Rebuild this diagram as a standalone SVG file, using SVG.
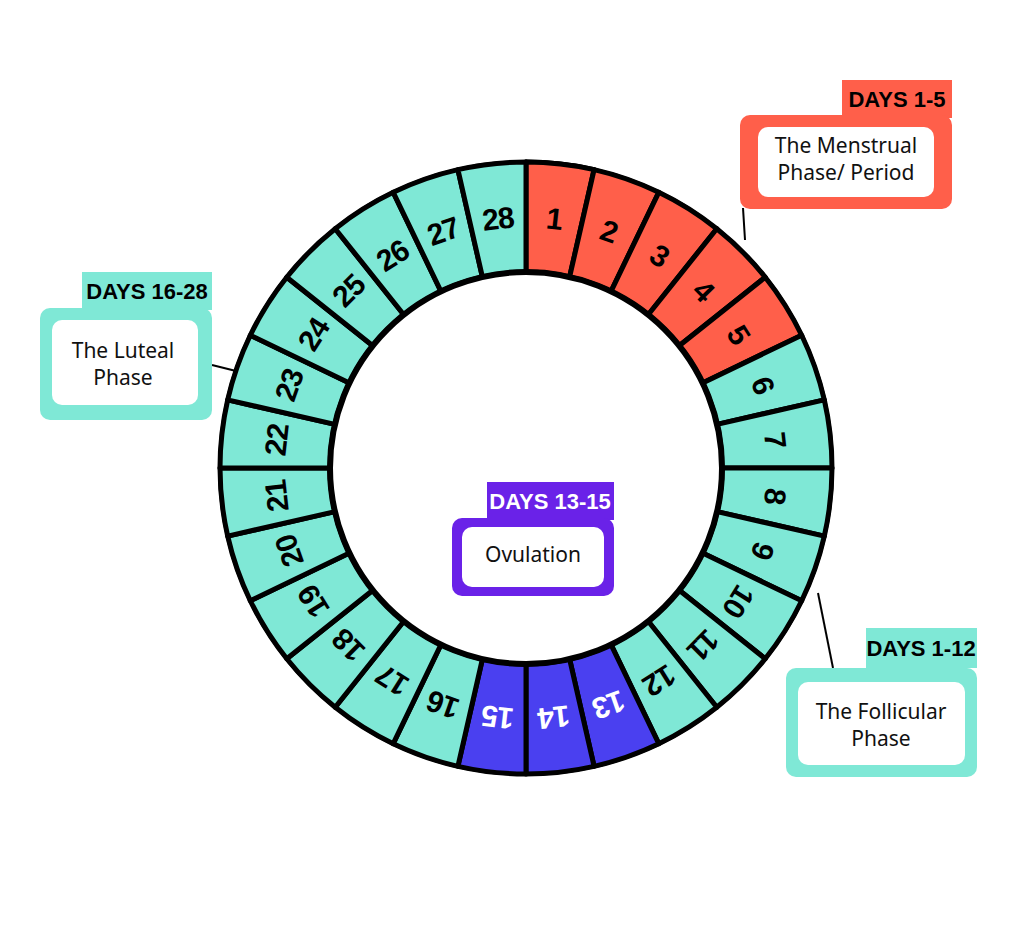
<svg xmlns="http://www.w3.org/2000/svg" width="1024" height="936" viewBox="0 0 1024 936">
<style>
.seg{stroke:#000;stroke-width:5;stroke-linejoin:round}
.t{fill:#7FE8D6}.r{fill:#FF5F4A}.b{fill:#4A40F0}
.n{font-family:"Liberation Sans",sans-serif;font-weight:bold;font-size:30px;text-anchor:middle;dominant-baseline:central;letter-spacing:-1px}
.tag{font-family:"Liberation Sans",sans-serif;font-weight:bold;font-size:22px;text-anchor:middle;dominant-baseline:central}
.lb{font-family:"Noto Sans",sans-serif;font-size:21px;text-anchor:middle;fill:#111}
.ln{stroke:#000;stroke-width:2;fill:none}
</style>
<defs><path id="s" d="M526,162 A306,306 0 0 1 594.09,169.68 L569.61,276.92 A196,196 0 0 0 526,272 Z"/></defs>
<rect width="1024" height="936" fill="#fff"/>
<g id="connectors">
<line class="ln" x1="743" y1="208" x2="745" y2="240"/>
<line class="ln" x1="212" y1="365" x2="236" y2="371"/>
<line class="ln" x1="535" y1="597" x2="525" y2="652"/>
<line class="ln" x1="818" y1="593" x2="833" y2="668"/>
</g>
<g id="wheel">
<circle cx="526" cy="468" r="308" fill="#000"/>
<g transform="rotate(0,526,468)"><use href="#s" class="seg r"/><text class="n" x="526" y="217" transform="rotate(6.43,526,468) rotate(0,526,217)" >1</text></g>
</g>
<g id="days">
<g transform="rotate(0,526,468)"><use href="#s" class="seg r"/><text class="n" transform="rotate(6.43,526,468)" x="526" y="217">1</text></g>
<g transform="rotate(12.857,526,468)"><use href="#s" class="seg r"/><text class="n" transform="rotate(6.43,526,468)" x="526" y="217">2</text></g>
<g transform="rotate(25.714,526,468)"><use href="#s" class="seg r"/><text class="n" transform="rotate(6.43,526,468)" x="526" y="217">3</text></g>
<g transform="rotate(38.571,526,468)"><use href="#s" class="seg r"/><text class="n" transform="rotate(6.43,526,468)" x="526" y="217">4</text></g>
<g transform="rotate(51.429,526,468)"><use href="#s" class="seg r"/><text class="n" transform="rotate(6.43,526,468)" x="526" y="217">5</text></g>
<g transform="rotate(64.286,526,468)"><use href="#s" class="seg t"/><text class="n" transform="rotate(6.43,526,468)" x="526" y="217">6</text></g>
<g transform="rotate(77.143,526,468)"><use href="#s" class="seg t"/><text class="n" transform="rotate(6.43,526,468)" x="526" y="217">7</text></g>
<g transform="rotate(90,526,468)"><use href="#s" class="seg t"/><text class="n" transform="rotate(6.43,526,468)" x="526" y="217">8</text></g>
<g transform="rotate(102.857,526,468)"><use href="#s" class="seg t"/><text class="n" transform="rotate(6.43,526,468)" x="526" y="217">9</text></g>
<g transform="rotate(115.714,526,468)"><use href="#s" class="seg t"/><text class="n" transform="rotate(6.43,526,468)" x="526" y="217">10</text></g>
<g transform="rotate(128.571,526,468)"><use href="#s" class="seg t"/><text class="n" transform="rotate(6.43,526,468)" x="526" y="217">11</text></g>
<g transform="rotate(141.429,526,468)"><use href="#s" class="seg t"/><text class="n" transform="rotate(6.43,526,468)" x="526" y="217">12</text></g>
<g transform="rotate(154.286,526,468)"><use href="#s" class="seg b"/><text class="n" fill="#fff" transform="rotate(6.43,526,468)" x="526" y="217">13</text></g>
<g transform="rotate(167.143,526,468)"><use href="#s" class="seg b"/><text class="n" fill="#fff" transform="rotate(6.43,526,468)" x="526" y="217">14</text></g>
<g transform="rotate(180,526,468)"><use href="#s" class="seg b"/><text class="n" fill="#fff" transform="rotate(6.43,526,468)" x="526" y="217">15</text></g>
<g transform="rotate(192.857,526,468)"><use href="#s" class="seg t"/><text class="n" transform="rotate(6.43,526,468)" x="526" y="217">16</text></g>
<g transform="rotate(205.714,526,468)"><use href="#s" class="seg t"/><text class="n" transform="rotate(6.43,526,468)" x="526" y="217">17</text></g>
<g transform="rotate(218.571,526,468)"><use href="#s" class="seg t"/><text class="n" transform="rotate(6.43,526,468)" x="526" y="217">18</text></g>
<g transform="rotate(231.429,526,468)"><use href="#s" class="seg t"/><text class="n" transform="rotate(6.43,526,468)" x="526" y="217">19</text></g>
<g transform="rotate(244.286,526,468)"><use href="#s" class="seg t"/><text class="n" transform="rotate(6.43,526,468)" x="526" y="217">20</text></g>
<g transform="rotate(257.143,526,468)"><use href="#s" class="seg t"/><text class="n" transform="rotate(6.43,526,468)" x="526" y="217">21</text></g>
<g transform="rotate(270,526,468)"><use href="#s" class="seg t"/><text class="n" transform="rotate(6.43,526,468)" x="526" y="217">22</text></g>
<g transform="rotate(282.857,526,468)"><use href="#s" class="seg t"/><text class="n" transform="rotate(6.43,526,468)" x="526" y="217">23</text></g>
<g transform="rotate(295.714,526,468)"><use href="#s" class="seg t"/><text class="n" transform="rotate(6.43,526,468)" x="526" y="217">24</text></g>
<g transform="rotate(308.571,526,468)"><use href="#s" class="seg t"/><text class="n" transform="rotate(6.43,526,468)" x="526" y="217">25</text></g>
<g transform="rotate(321.429,526,468)"><use href="#s" class="seg t"/><text class="n" transform="rotate(6.43,526,468)" x="526" y="217">26</text></g>
<g transform="rotate(334.286,526,468)"><use href="#s" class="seg t"/><text class="n" transform="rotate(6.43,526,468)" x="526" y="217">27</text></g>
<g transform="rotate(347.143,526,468)"><use href="#s" class="seg t"/><text class="n" transform="rotate(6.43,526,468)" x="526" y="217">28</text></g>
<circle cx="526" cy="468" r="196" fill="#fff" stroke="#000" stroke-width="6"/>
</g>
<g id="menstrual">
<rect x="842" y="80" width="110" height="38" fill="#FF5F4A"/>
<text class="tag" x="897" y="99">DAYS 1-5</text>
<rect x="740" y="115" width="212" height="94" rx="10" fill="#FF5F4A"/>
<rect x="758" y="127" width="176" height="70" rx="10" fill="#fff"/>
<text class="lb" x="846" y="153">The Menstrual</text>
<text class="lb" x="846" y="180">Phase/ Period</text>
</g>
<g id="luteal">
<rect x="82" y="272" width="130" height="38" fill="#7FE8D6"/>
<text class="tag" x="147" y="291">DAYS 16-28</text>
<rect x="40" y="308" width="172" height="112" rx="10" fill="#7FE8D6"/>
<rect x="52" y="320" width="146" height="85" rx="10" fill="#fff"/>
<text class="lb" x="123" y="358">The Luteal</text>
<text class="lb" x="123" y="385">Phase</text>
</g>
<g id="ovulation">
<rect x="487" y="482" width="127" height="38" fill="#6A22E8"/>
<text class="tag" x="550" y="501" fill="#fff">DAYS 13-15</text>
<rect x="452" y="518" width="162" height="78" rx="10" fill="#6A22E8"/>
<rect x="462" y="527" width="142" height="60" rx="10" fill="#fff"/>
<text class="lb" x="533" y="562">Ovulation</text>
</g>
<g id="follicular">
<rect x="866" y="628" width="111" height="40" fill="#7FE8D6"/>
<text class="tag" x="921" y="648">DAYS 1-12</text>
<rect x="786" y="668" width="191" height="109" rx="10" fill="#7FE8D6"/>
<rect x="798" y="682" width="167" height="83" rx="10" fill="#fff"/>
<text class="lb" x="881" y="719">The Follicular</text>
<text class="lb" x="881" y="746">Phase</text>
</g>
</svg>
